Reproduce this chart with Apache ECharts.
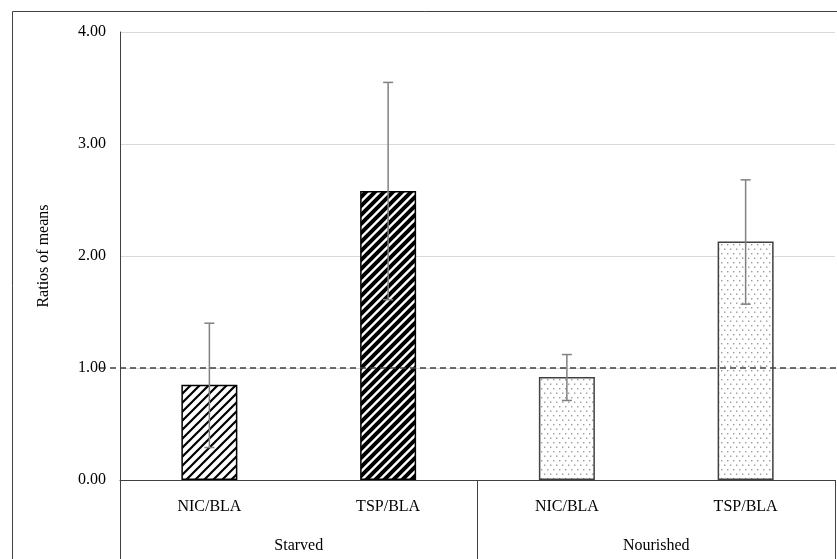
<!DOCTYPE html>
<html>
<head>
<meta charset="utf-8">
<script src="https://cdn.jsdelivr.net/npm/echarts@6/dist/echarts.min.js"></script>
<style>
html,body{margin:0;padding:0;background:#fff;}
#chart{width:837px;height:559px;}
</style>
</head>
<body>
<div id="chart"></div>
<script>
// ---- data ----
var categories = ['NIC/BLA', 'TSP/BLA', 'NIC/BLA', 'TSP/BLA'];
var groups = ['Starved', 'Nourished'];
var ratios = [0.85, 2.58, 0.92, 2.13];
var errLow = [0.29, 1.61, 0.71, 1.57];
var errHigh = [1.40, 3.55, 1.12, 2.68];
var yTicks = [0, 1, 2, 3, 4];
var refValue = 1.0;

// ---- patterns ----
function stripePattern(size, lw) {
  var c = document.createElement('canvas');
  c.width = size; c.height = size;
  var g = c.getContext('2d');
  g.fillStyle = '#fff'; g.fillRect(0, 0, size, size);
  g.strokeStyle = '#000'; g.lineWidth = lw; g.lineCap = 'square';
  g.beginPath();
  g.moveTo(-size, size); g.lineTo(size, -size);
  g.moveTo(0, size * 2); g.lineTo(size * 2, 0);
  g.moveTo(0, size); g.lineTo(size, 0);
  g.stroke();
  return c;
}
function dotPattern() {
  var c = document.createElement('canvas');
  c.width = 6; c.height = 9;
  var g = c.getContext('2d');
  g.fillStyle = '#fff'; g.fillRect(0, 0, 6, 9);
  g.fillStyle = '#9a9a9a';
  g.fillRect(1, 1, 1.4, 1.4);
  g.fillRect(4, 5.5, 1.4, 1.4);
  return c;
}
var patterns = [
  {image: stripePattern(9, 2.2), repeat: 'repeat'},
  {image: stripePattern(9, 4), repeat: 'repeat'},
  {image: dotPattern(), repeat: 'repeat'},
  {image: dotPattern(), repeat: 'repeat'}
];
var borders = ['#000', '#000', '#404040', '#404040'];

var barData = ratios.map(function (v, i) {
  return {value: v, itemStyle: {color: patterns[i], borderColor: borders[i], borderWidth: 1.5}};
});
var errData = ratios.map(function (v, i) { return [i, errLow[i], errHigh[i]]; });

var chart = echarts.init(document.getElementById('chart'), null, {renderer: 'canvas'});
var font = 'Liberation Serif';
chart.setOption({
  animation: false,
  backgroundColor: '#fff',
  graphic: [{
    type: 'polyline', silent: true, z: 100,
    shape: {points: [[12.5, 600], [12.5, 11.5], [900, 11.5]]},
    style: {stroke: '#404040', lineWidth: 1, fill: null}
  }],
  grid: {left: 120, right: 2, top: 32, bottom: 79, containLabel: false},
  xAxis: [{
    type: 'category', data: categories, position: 'bottom',
    axisLine: {show: true, lineStyle: {color: '#404040', width: 1}},
    axisTick: {show: false},
    axisLabel: {fontFamily: font, fontSize: 16, color: '#000', margin: 19}
  }, {
    type: 'category', data: groups, position: 'bottom',
    axisLine: {show: false},
    axisTick: {show: true, length: 90, lineStyle: {color: '#404040', width: 1}},
    axisLabel: {fontFamily: font, fontSize: 16, color: '#000', margin: 58},
    splitLine: {show: false}
  }],
  yAxis: {
    type: 'value', min: yTicks[0], max: yTicks[yTicks.length - 1], interval: 1,
    name: 'Ratios of means', nameLocation: 'middle', nameGap: 68,
    nameTextStyle: {fontFamily: font, fontSize: 16, color: '#000'},
    axisLine: {show: true, lineStyle: {color: '#404040', width: 1}},
    axisTick: {show: false},
    axisLabel: {fontFamily: font, fontSize: 16, color: '#000', margin: 14,
      formatter: function (v) { return v.toFixed(2); }},
    splitLine: {show: true, lineStyle: {color: '#d9d9d9', width: 1}}
  },
  series: [{
    type: 'bar', data: barData, barWidth: 56, xAxisIndex: 0, z: 2
  }, {
    type: 'custom', xAxisIndex: 0, data: errData, z: 5, silent: true,
    renderItem: function (params, api) {
      var x = api.value(0);
      var lo = api.coord([x, api.value(1)]);
      var hi = api.coord([x, api.value(2)]);
      var cap = 5;
      var st = {stroke: '#808080', lineWidth: 1.5};
      return {type: 'group', children: [
        {type: 'line', shape: {x1: lo[0], y1: lo[1], x2: hi[0], y2: hi[1]}, style: st},
        {type: 'line', shape: {x1: hi[0] - cap, y1: hi[1], x2: hi[0] + cap, y2: hi[1]}, style: st},
        {type: 'line', shape: {x1: lo[0] - cap, y1: lo[1], x2: lo[0] + cap, y2: lo[1]}, style: st}
      ]};
    }
  }, {
    type: 'custom', xAxisIndex: 0, data: [[0, refValue]], z: 6, silent: true, clip: false,
    renderItem: function (params, api) {
      var p = api.coord([0, api.value(1)]);
      var cs = params.coordSys;
      return {type: 'line',
        shape: {x1: cs.x - 20, y1: p[1], x2: cs.x + cs.width + 10, y2: p[1]},
        style: {stroke: '#404040', lineWidth: 1.5, lineDash: [6, 4]}};
    }
  }]
});
</script>
</body>
</html>
